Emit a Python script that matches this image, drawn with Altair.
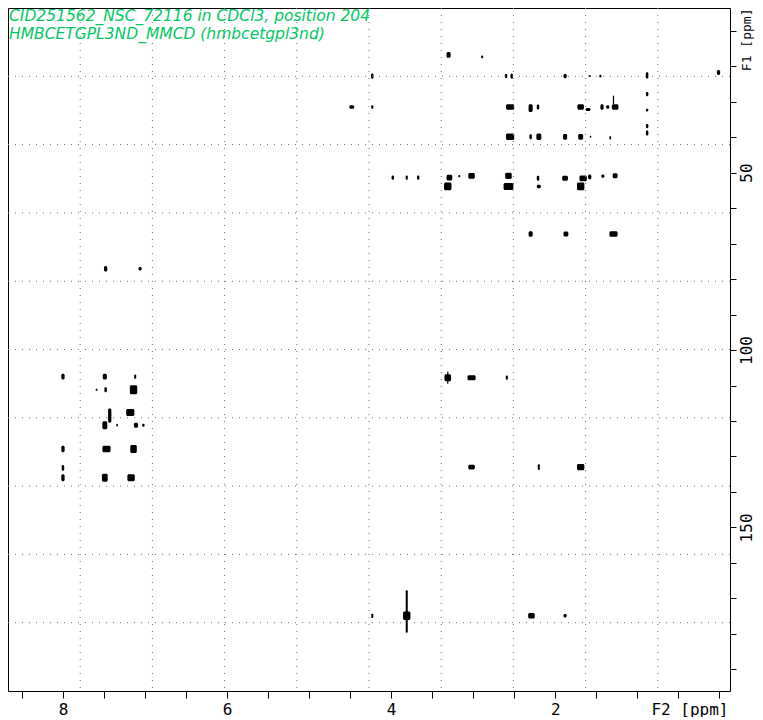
import altair as alt
import pandas as pd

# ---- data ----
f2_ppm = [3.30, 2.89, 4.23, 2.60, 2.53, 1.88, 1.58, 1.45, 0.88, 0.01,
          4.48, 4.23, 2.55, 2.30, 2.21, 1.69, 1.60, 1.43, 1.36, 1.27, 1.29,
          0.88, 0.88, 0.88, 0.88,
          2.55, 2.30, 2.20, 1.88, 1.69, 1.57, 1.33,
          3.98, 3.81, 3.67, 3.29, 3.17, 3.02, 2.57, 2.21, 1.88, 1.66, 1.58, 1.42, 1.27,
          3.31, 2.57, 2.20, 1.69,
          2.30, 1.87, 1.29,
          7.48, 7.06,
          8.00, 7.49, 7.12, 7.59, 7.48, 7.14, 7.18, 7.43, 7.49, 7.34, 7.11, 7.02,
          8.00, 7.47, 7.14, 8.00, 8.00, 7.49, 7.17,
          3.31, 3.31, 3.02, 2.59, 3.02, 2.20, 1.69,
          4.23, 3.81, 3.81, 2.29, 1.88]
f1_ppm = [16.8, 17.4, 22.8, 22.8, 22.8, 22.8, 22.8, 22.8, 22.6, 21.8,
          31.5, 31.5, 31.5, 31.8, 31.5, 31.5, 32.2, 31.5, 31.5, 31.5, 29.5,
          27.9, 32.4, 36.9, 38.8,
          39.9, 39.9, 39.9, 39.9, 39.9, 39.9, 40.2,
          51.4, 51.4, 51.4, 51.4, 51.0, 50.9, 50.9, 51.6, 51.6, 51.6, 51.2, 51.0, 50.9,
          53.9, 53.9, 53.9, 53.9,
          67.3, 67.3, 67.3,
          77.1, 77.1,
          107.5, 107.5, 107.5, 111.2, 111.2, 111.2, 117.6, 118.5, 121.2, 121.2, 121.2, 121.2,
          127.9, 127.9, 127.9, 133.2, 136.0, 136.0, 136.0,
          107.8, 107.8, 107.8, 107.8, 133.0, 133.0, 133.0,
          174.9, 174.9, 173.7, 174.9, 174.9]
f2_width = [0.05, 0.025, 0.03, 0.03, 0.03, 0.04, 0.03, 0.025, 0.03, 0.04,
            0.06, 0.025, 0.10, 0.05, 0.03, 0.08, 0.06, 0.04, 0.04, 0.08, 0.015,
            0.03, 0.03, 0.03, 0.03,
            0.10, 0.03, 0.06, 0.05, 0.06, 0.02, 0.02,
            0.03, 0.025, 0.03, 0.07, 0.025, 0.08, 0.08, 0.03, 0.07, 0.09, 0.04, 0.04, 0.06,
            0.09, 0.12, 0.05, 0.09,
            0.05, 0.06, 0.10,
            0.04, 0.04,
            0.04, 0.05, 0.025, 0.025, 0.03, 0.09, 0.10, 0.04, 0.06, 0.02, 0.05, 0.03,
            0.04, 0.10, 0.08, 0.03, 0.04, 0.07, 0.09,
            0.08, 0.015, 0.10, 0.025, 0.08, 0.025, 0.09,
            0.025, 0.09, 0.025, 0.08, 0.04]
f1_width = [1.6, 0.8, 1.5, 1.2, 1.4, 1.2, 0.6, 0.8, 1.8, 1.4,
            1.0, 1.0, 1.6, 2.2, 1.4, 1.6, 0.9, 1.6, 1.0, 1.6, 2.5,
            1.2, 0.8, 1.2, 1.4,
            1.8, 1.4, 1.8, 1.6, 1.6, 0.6, 1.0,
            1.2, 1.2, 1.2, 1.6, 0.6, 1.6, 1.8, 1.4, 1.4, 1.6, 1.4, 0.9, 1.4,
            2.2, 2.0, 1.0, 2.2,
            1.6, 1.4, 1.6,
            1.6, 1.0,
            1.6, 1.6, 1.2, 0.6, 1.4, 2.5, 2.0, 4.0, 2.2, 0.8, 1.4, 0.8,
            1.8, 1.8, 2.2, 1.6, 2.0, 2.2, 2.0,
            2.0, 3.5, 1.4, 1.2, 1.4, 1.6, 1.8,
            1.2, 2.4, 12.0, 1.6, 1.0]

title_lines = ["CID251562_NSC_72116 in CDCl3, position 204",
               "HMBCETGPL3ND_MMCD (hmbcetgpl3nd)"]

x_domain = [8.67, -0.13]
y_domain = [3.6, 196.1]
x_ticks = [i * 0.5 for i in range(0, 18)]
y_ticks = list(range(10, 200, 10))

W, H = 722, 683

peaks = pd.DataFrame({"f2": f2_ppm, "f1": f1_ppm, "w": f2_width, "h": f1_width})
grid_x = pd.DataFrame({"v": [x_domain[0] + (x_domain[1] - x_domain[0]) * i / 10 for i in range(1, 10)]})
grid_y = pd.DataFrame({"v": [y_domain[0] + (y_domain[1] - y_domain[0]) * i / 10 for i in range(1, 10)]})

xs = alt.Scale(domain=x_domain, nice=False, zero=False)
ys = alt.Scale(domain=y_domain, nice=False, zero=False, reverse=True)

axis_font = "DejaVu Sans Mono"

x_axis = alt.Axis(
    values=x_ticks, grid=False, tickSize=7, tickColor="black", domain=False,
    labelExpr="(datum.value % 2 == 0 && datum.value > 0) ? format(datum.value, 'd') : ''",
    labelFont=axis_font, labelFontSize=16, labelColor="black", labelPadding=3,
    labelFlush=False,
    title="F2 [ppm]", titleFont=axis_font, titleFontSize=16, titleFontWeight="normal",
    titleColor="black", titleAnchor="end", titleAlign="right", titleX=W - 2, titleY=18,
    titleBaseline="middle",
)
y_axis = alt.Axis(
    orient="right", values=y_ticks, grid=False, tickSize=6, tickColor="black", domain=False,
    labelExpr="(datum.value % 50 == 0) ? format(datum.value, 'd') : ''",
    labelFont=axis_font, labelFontSize=16, labelColor="black", labelAngle=270,
    labelAlign="center", labelBaseline="top", labelPadding=2, labelFlush=False,
    title="F1 [ppm]", titleFont=axis_font, titleFontSize=13, titleFontWeight="normal",
    titleColor="black", titleAngle=270, titleX=10, titleY=0, titleAlign="right",
    titleBaseline="top",
)

gx = alt.Chart(grid_x).mark_rule(color="#6f6f6f", strokeDash=[1, 6], strokeWidth=1).encode(
    x=alt.X("v:Q", scale=xs, axis=x_axis)
)
gy = alt.Chart(grid_y).mark_rule(color="#6f6f6f", strokeDash=[1, 6], strokeWidth=1).encode(
    y=alt.Y("v:Q", scale=ys, axis=y_axis)
)

pk = alt.Chart(peaks).transform_calculate(
    x1="datum.f2 - datum.w / 2", x2="datum.f2 + datum.w / 2",
    y1="datum.f1 - datum.h / 2", y2="datum.f1 + datum.h / 2",
).mark_rect(color="black", cornerRadius=1.5).encode(
    x=alt.X("x1:Q", scale=xs, axis=x_axis),
    x2="x2:Q",
    y=alt.Y("y1:Q", scale=ys, axis=y_axis),
    y2="y2:Q",
)

txt = alt.Chart(pd.DataFrame({"a": [0]})).mark_text(
    text=title_lines, align="left", baseline="alphabetic", font="DejaVu Sans",
    fontSize=15.5, fontStyle="italic", color="#00c864", lineHeight=18,
).encode(x=alt.value(1), y=alt.value(13))

chart = alt.layer(pk, gx, gy, txt).properties(
    width=W, height=H,
    autosize=alt.AutoSizeParams(type="none"),
    padding={"left": 0, "top": 0, "right": 25, "bottom": 26},
).configure_view(stroke="black", strokeWidth=1)

chart.save("out.html", embed_options={"renderer": "svg", "actions": False})
